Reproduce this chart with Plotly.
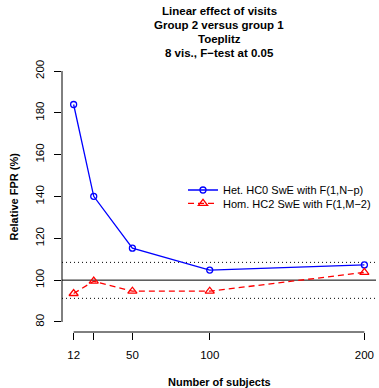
import plotly.graph_objects as go

# Number of subjects per simulation setting
subjects = [12, 25, 50, 100, 200]
tick_labels = ["12", "", "50", "100", "200"]

# Relative false positive rate (%) for each estimator
het_hc0 = [184.0, 140.1, 115.3, 104.8, 107.3]
hom_hc2 = [93.6, 99.5, 94.7, 94.7, 103.7]

# Nominal level and the bounds of its Monte Carlo interval
nominal = 100
band = [91.3, 108.5]

y_ticks = [80, 100, 120, 140, 160, 180, 200]

W, H = 379, 388
L, R, T, B = 62, 3, 61, 56
FONT = "Liberation Sans, Arial, Helvetica, sans-serif"


def paper_y(px):
    return (H - B - px) / (H - T - B)


def paper_x(px):
    return (px - L) / (W - L - R)


fig = go.Figure()
fig.add_trace(go.Scatter(
    x=subjects, y=het_hc0, mode="lines+markers",
    name="Het. HC0 SwE with F(1,N\u2212p)", legend="legend",
    line=dict(color="#0000FF", width=1.3),
    marker=dict(symbol="circle-open", size=6, color="#0000FF", line=dict(width=1.3)),
))
fig.add_trace(go.Scatter(
    x=subjects, y=hom_hc2, mode="lines+markers",
    name="Hom. HC2 SwE with F(1,M\u22122)", legend="legend2",
    line=dict(color="#FF0000", width=1.3, dash="6px,4px"),
    marker=dict(symbol="triangle-up-open", size=8, color="#FF0000", line=dict(width=1.3)),
))

shapes = [
    dict(type="line", xref="paper", yref="y", x0=0, x1=1, y0=nominal, y1=nominal,
         line=dict(color="black", width=1), layer="below"),
]
for b in band:
    shapes.append(dict(type="line", xref="paper", yref="y", x0=0, x1=1, y0=b, y1=b,
                       line=dict(color="black", width=1, dash="1px,3px"), layer="below"))
# R-style axis lines spanning only the tick range
shapes.append(dict(type="line", xref="x", yref="paper", x0=subjects[0], x1=subjects[-1],
                   y0=0, y1=0, line=dict(color="black", width=1)))
shapes.append(dict(type="line", xref="paper", yref="y", x0=0, x1=0,
                   y0=y_ticks[0], y1=y_ticks[-1], line=dict(color="black", width=1)))

title_lines = ["Linear effect of visits", "Group 2 versus group 1", "Toeplitz",
               "8 vis., F\u2212test at 0.05"]
title_px = [11, 25.2, 39.3, 53.4]
annotations = []
for txt, py in zip(title_lines, title_px):
    annotations.append(dict(text=f"<b>{txt}</b>", xref="paper", yref="paper", x=0.5,
                            y=paper_y(py), xanchor="center", yanchor="middle",
                            showarrow=False, font=dict(size=11.5, family=FONT, color="black")))
annotations.append(dict(text="<b>Number of subjects</b>", xref="paper", yref="paper", x=0.5,
                        y=paper_y(382), xanchor="center", yanchor="middle", showarrow=False,
                        font=dict(size=11, family=FONT, color="black")))
annotations.append(dict(text="<b>Relative FPR (%)</b>", xref="paper", yref="paper",
                        x=paper_x(13), y=0.5, xanchor="center", yanchor="middle",
                        textangle=-90, showarrow=False,
                        font=dict(size=11, family=FONT, color="black")))

legend_style = dict(xanchor="left", yanchor="middle", bgcolor="rgba(0,0,0,0)",
                    borderwidth=0, font=dict(size=11, family=FONT), itemwidth=30)

fig.update_layout(
    width=W, height=H,
    margin=dict(l=L, r=R, t=T, b=B, pad=0, autoexpand=False),
    paper_bgcolor="white", plot_bgcolor="white",
    font=dict(family=FONT, size=11.5, color="black"),
    showlegend=True,
    legend=dict(x=paper_x(183), y=paper_y(190), **legend_style),
    legend2=dict(x=paper_x(183), y=paper_y(203.3), **legend_style),
    shapes=shapes,
    annotations=annotations,
    xaxis=dict(range=[4.48, 207.52], tickmode="array", tickvals=subjects,
               ticktext=tick_labels, ticks="outside", ticklen=7, tickcolor="black",
               tickwidth=1, showgrid=False, zeroline=False, showline=False,
               tickfont=dict(size=11.5, family=FONT), ticklabelstandoff=5),
    yaxis=dict(range=[75.2, 204.8], tickmode="array", tickvals=y_ticks,
               ticks="outside", ticklen=7, tickcolor="black", tickwidth=1,
               showgrid=False, zeroline=False, showline=False, tickangle=-90,
               tickfont=dict(size=11.5, family=FONT), ticklabelstandoff=5),
)

fig.write_html("out.html")
